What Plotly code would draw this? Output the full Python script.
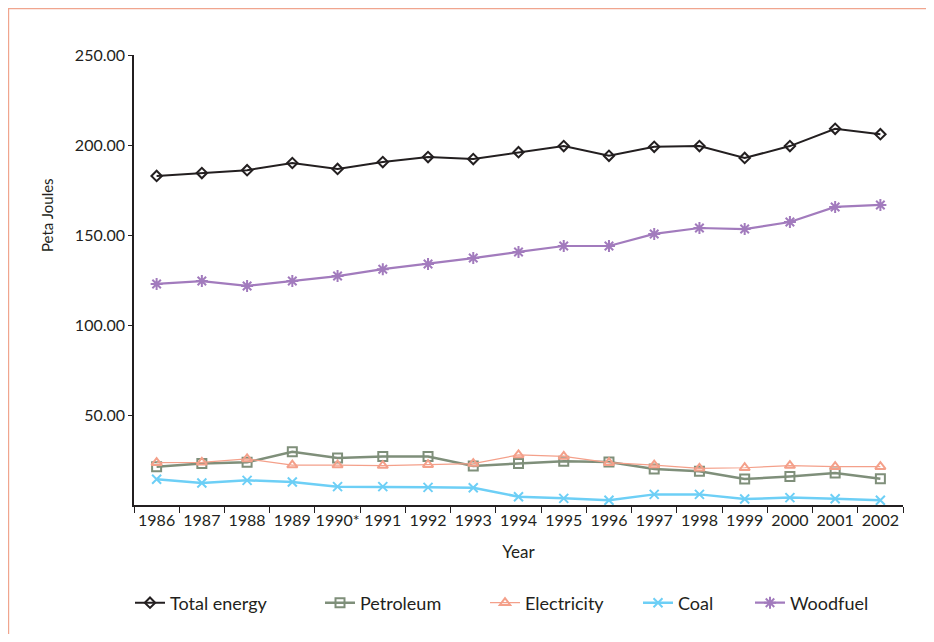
import plotly.graph_objects as go

years = ["1986", "1987", "1988", "1989", "1990*", "1991", "1992", "1993", "1994",
         "1995", "1996", "1997", "1998", "1999", "2000", "2001", "2002"]
total_energy = [182.8, 184.4, 186.0, 190.0, 186.7, 190.5, 193.3, 192.2, 196.0,
                199.4, 194.0, 199.0, 199.4, 192.8, 199.4, 209.0, 206.0]
petroleum = [21.3, 23.0, 23.7, 29.6, 26.1, 26.9, 26.9, 21.7, 23.1,
             24.3, 23.9, 20.0, 18.7, 14.4, 15.9, 17.8, 14.6]
electricity = [23.5, 23.7, 25.6, 22.2, 22.2, 21.9, 22.4, 23.0, 27.8,
               27.0, 23.5, 22.2, 20.4, 20.7, 21.9, 21.3, 21.3]
coal = [14.3, 12.2, 13.7, 12.8, 10.2, 10.2, 9.8, 9.6, 4.6,
        3.7, 2.6, 5.9, 5.9, 3.3, 4.1, 3.5, 2.6]
woodfuel = [122.8, 124.4, 121.7, 124.4, 127.2, 131.0, 133.9, 137.2, 140.6,
            143.9, 143.9, 150.6, 153.9, 153.3, 157.2, 165.6, 166.7]
y_ticks = [50, 100, 150, 200, 250]

series = [
    ("Total energy", total_energy, "#231f20", 2, "diamond-open", 8),
    ("Petroleum", petroleum, "#7f8f7a", 2.5, "square-open", 9),
    ("Electricity", electricity, "#f4a08a", 1.2, "triangle-up-open", 9),
    ("Coal", coal, "#6dcff6", 2.5, "x-thin-open", 9),
    ("Woodfuel", woodfuel, "#a27bbd", 2.2, "asterisk-open", 10),
]

# page body adds an 8px offset; figure coordinates are screen - 8
OFF = 8
PL, PR, PT, PB = 134, 903, 55, 505
W, H = 934 - OFF, 642 - 16

font_family = "Lato, 'Open Sans', sans-serif"

def px_x(p):
    return (p - PL) / (PR - PL)

def px_y(p):
    return (PB - p) / (PB - PT)

legend_starts = [130, 320, 485, 638, 750]
legend_names = ["legend", "legend2", "legend3", "legend4", "legend5"]

fig = go.Figure()
for (name, vals, color, lw, sym, ms), lg in zip(series, legend_names):
    fig.add_trace(go.Scatter(
        x=years, y=vals, name=name, mode="lines+markers",
        line=dict(color=color, width=lw),
        marker=dict(symbol=sym, size=ms, color=color, line=dict(color=color, width=2)),
        legend=lg,
    ))

legends = {}
for lg, sx in zip(legend_names, legend_starts):
    legends[lg] = dict(orientation="h", x=px_x(sx), xanchor="left",
                       y=px_y(603), yanchor="middle", bgcolor="rgba(0,0,0,0)",
                       font=dict(size=18, family=font_family, color="#231f20"))

fig.update_layout(
    width=W, height=H,
    margin=dict(l=PL - OFF, r=W - (PR - OFF), t=PT - OFF, b=H - (PB - OFF), autoexpand=False),
    paper_bgcolor="white", plot_bgcolor="white",
    font=dict(family=font_family, color="#231f20", size=14),
    showlegend=True,
    **legends,
    xaxis=dict(
        type="category", tickson="boundaries", ticks="outside", ticklen=6,
        range=[-0.5, len(years) - 0.5],
        tickcolor="#231f20", showline=True, linecolor="#231f20", linewidth=1.5,
        showgrid=False, zeroline=False, tickangle=0, automargin=False,
        tickfont=dict(size=16, family=font_family),
        title=dict(text="Year", font=dict(size=17, family=font_family), standoff=18),
    ),
    yaxis=dict(
        range=[0, 250], tickvals=y_ticks, tickformat=".2f", ticks="outside", ticklen=4,
        tickcolor="#231f20", showline=True, linecolor="#231f20", linewidth=1.5,
        showgrid=False, zeroline=False, automargin=False,
        tickfont=dict(size=16, family=font_family),
    ),
    annotations=[dict(
        text="Peta Joules", xref="paper", yref="paper",
        x=px_x(47), y=px_y(215), xanchor="center", yanchor="middle",
        textangle=-90, showarrow=False, font=dict(size=15, family=font_family),
    )],
    shapes=[
        dict(type="line", xref="paper", yref="paper",
             x0=px_x(8.6), x1=px_x(8.6), y0=px_y(9), y1=px_y(660),
             line=dict(color="#f0a58e", width=1.2)),
        dict(type="line", xref="paper", yref="paper",
             x0=px_x(8), x1=px_x(960), y0=px_y(8.6), y1=px_y(8.6),
             line=dict(color="#f0a58e", width=1.2)),
    ],
)

fig.write_html("out.html")
